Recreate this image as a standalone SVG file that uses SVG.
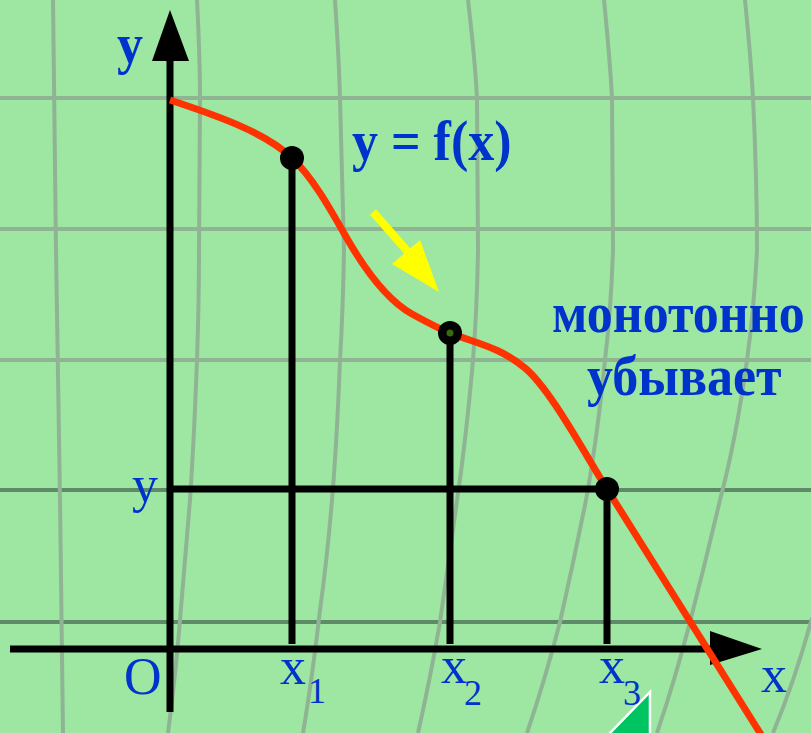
<svg xmlns="http://www.w3.org/2000/svg" width="811" height="733" viewBox="0 0 811 733">
<style>
.grid{fill:none;stroke:#8fb494;stroke-width:4}
.gridd{fill:none;stroke:#5f8a68;stroke-width:4}
.ax{stroke:#000;stroke-width:7;fill:none}
.drop{stroke:#000;stroke-width:7;fill:none}
.dot{fill:#000}
.lb{font-family:"Liberation Serif","Times New Roman",serif;fill:#0033cc;font-size:52px}
.b{font-weight:bold}
.sub{font-size:36px}
</style>
<rect width="811" height="733" fill="#9de7a3"/>
<g id="grid">
<path class="grid" d="M0,98H811M0,229H811M0,360H811"/>
<path class="gridd" d="M0,490H811M0,622H811"/>
<path class="grid" d="M53,0 L56,250 L60,500 L63,733"/>
<path class="grid" d="M197,0 Q200,60 200,98 L199,250 Q199,300 197,360 Q194,440 190,500 Q185,560 180,620 Q175,680 168,733"/>
<path class="grid" d="M335,0 Q339,60 340,98 L344,250 Q343,310 340,360 Q337,440 332,500 Q327,560 320,610 Q312,680 303,733"/>
<path class="grid" d="M468,0 Q475,60 477,98 L478,250 Q477,310 473,360 Q466,440 457,500 Q449,560 440,622 Q430,680 418,733"/>
<path class="grid" d="M604,0 Q610,60 612,98 L613,250 Q611,310 605,360 Q597,440 586,500 Q574,560 560,622 Q545,680 527,733"/>
<path class="grid" d="M745,0 Q751,60 753,98 Q757,180 757,250 Q754,310 747,360 Q736,440 720,500 Q706,560 690,622 Q675,680 657,733"/>
<path class="grid" d="M812,618 Q795,680 773,733"/>
</g>
<g id="connectors">
<path class="drop" d="M292,158V644M450,333V644M607,489V644M170,489H607"/>
</g>
<g id="axes">
<path class="ax" d="M170,712V55"/>
<polygon points="170,10 152,61 189,61" fill="#000"/>
<path class="ax" d="M10,649H715" stroke-width="8"/>
<polygon points="762,649 710,631 710,665" fill="#000"/>
</g>
<g id="curve">
<path d="M170,100 C215,115 265,132 292,158 C312,177 328,205 345,235 C362,265 385,299 412,314 C430,324 440,329 450,333 C475,343 500,347 525,368 C550,389 582,449 607,489 L772,752" fill="none" stroke="#ff3300" stroke-width="7"/>
</g>
<g id="points">
<circle class="dot" cx="292" cy="158" r="12"/>
<circle class="dot" cx="450" cy="333" r="12"/>
<circle cx="450" cy="333" r="3.5" fill="#3a6a10"/>
<circle class="dot" cx="607" cy="489" r="12"/>
</g>
<g id="arrow">
<path d="M373,212 L408,252" stroke="#ffff00" stroke-width="8" fill="none"/>
<polygon points="420,240 392,264 439,292" fill="#ffff00"/>
</g>
<g id="triangle">
<polygon points="608,735 650,692 650,735" fill="#00c462" stroke="#fff" stroke-width="2.5"/>
</g>
<g id="labels">
<text class="lb b" transform="translate(117,63) scale(1,1.08)">y</text>
<text class="lb b" transform="translate(352,160) scale(1,1.08)">y = f(x)</text>
<text class="lb b" transform="translate(552,332) scale(1,1.1)">монотонно</text>
<text class="lb b" transform="translate(587,395) scale(1,1.08)">убывает</text>
<text class="lb" x="132" y="502">y</text>
<text class="lb" x="124" y="694">O</text>
<text class="lb" x="280" y="684">x<tspan class="sub" x="308" y="703">1</tspan></text>
<text class="lb" x="441" y="683">x<tspan class="sub" x="464" y="705">2</tspan></text>
<text class="lb" x="599" y="683">x<tspan class="sub" x="623" y="705">3</tspan></text>
<text class="lb" x="761" y="692">x</text>
</g>
</svg>
